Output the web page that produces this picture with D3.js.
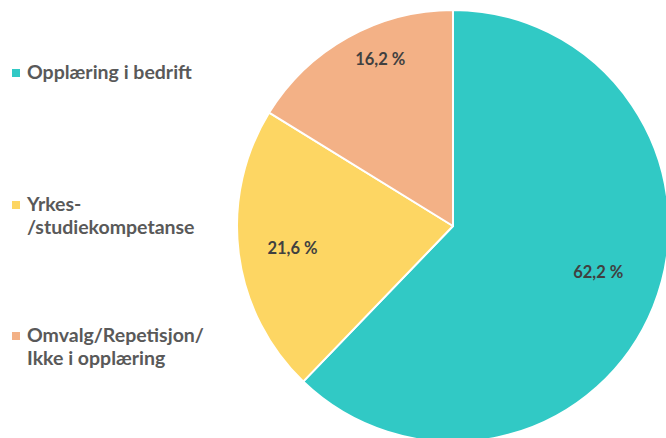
<!DOCTYPE html>
<html>
<head>
<meta charset="utf-8">
<script src="https://cdn.jsdelivr.net/npm/d3@7"></script>
<style>
  body { margin: 0; background: #fff; }
  svg { display: block; font-family: Lato, "Open Sans", sans-serif; }
</style>
</head>
<body>
<div id="chart"></div>
<script>
'use strict';

/**** DATA ****/
var categories = ["Opplæring i bedrift", "Yrkes-\n/studiekompetanse", "Omvalg/Repetisjon/\nIkke i opplæring"];
var shares = [62.2, 21.6, 16.2];
var valueLabels = ["62,2 %", "21,6 %", "16,2 %"];
var colors = ["#31c9c5", "#fdd663", "#f3b186"];

var width = 666, height = 438;
var cx = 453, cy = 226, radius = 216;
// data label placement per slice: fraction of radius, and angle nudge in degrees
var labelPos = [0.705, 0.75, 0.843];
var labelTurn = [-4.4, -0.6, 5.6];

var svg = d3.select("#chart").append("svg")
  .attr("width", width)
  .attr("height", height);

var slices = d3.pie().sort(null).value(function(d) { return d; })(shares);
var arc = d3.arc().innerRadius(0).outerRadius(radius);

var pieG = svg.append("g").attr("transform", "translate(" + cx + "," + cy + ")");

pieG.selectAll("path")
  .data(slices)
  .enter().append("path")
  .attr("d", arc)
  .attr("fill", function(d, i) { return colors[i]; })
  .attr("stroke", "#fff")
  .attr("stroke-width", 2)
  .attr("stroke-linejoin", "round");

// data labels
pieG.selectAll("text")
  .data(slices)
  .enter().append("text")
  .attr("transform", function(d, i) {
    var a = (d.startAngle + d.endAngle) / 2 + labelTurn[i] * Math.PI / 180;
    var r = radius * labelPos[i];
    return "translate(" + (r * Math.sin(a)) + "," + (-r * Math.cos(a)) + ")";
  })
  .attr("text-anchor", "middle")
  .attr("dy", "0.35em")
  .attr("font-size", 16.5)
  .attr("font-weight", "bold")
  .attr("fill", "#404040")
  .text(function(d, i) { return valueLabels[i]; });

// legend
var legendY = [73, 205, 336];
var legend = svg.append("g");
var items = legend.selectAll("g")
  .data(categories)
  .enter().append("g")
  .attr("transform", function(d, i) { return "translate(12," + legendY[i] + ")"; });

items.append("rect")
  .attr("x", 0).attr("y", -4)
  .attr("width", 8).attr("height", 8)
  .attr("fill", function(d, i) { return colors[i]; });

items.append("text")
  .attr("x", 15)
  .attr("font-size", 19.5)
  .attr("font-weight", "bold")
  .attr("fill", "#595959")
  .each(function(d) {
    var t = d3.select(this);
    d.split("\n").forEach(function(line, j) {
      t.append("tspan")
        .attr("x", 15)
        .attr("y", 6 + j * 23)
        .text(line);
    });
  });
</script>
</body>
</html>
